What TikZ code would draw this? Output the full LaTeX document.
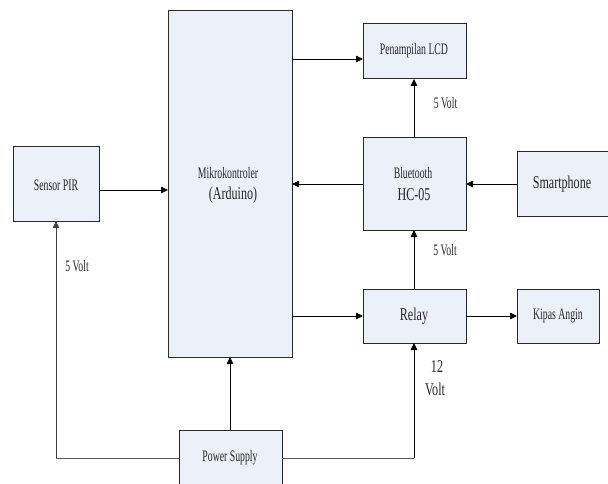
\documentclass[tikz,border=0pt]{standalone}
\usepackage{fontspec}
\setmainfont{Liberation Serif}
\newfontfamily\smfont{Liberation Serif}[FakeStretch=0.61]
\newfontfamily\lgfont{Liberation Serif}[FakeStretch=0.67]
\usetikzlibrary{arrows.meta}
\definecolor{boxfill}{RGB}{236,240,248}
\definecolor{boxline}{RGB}{40,40,40}
\begin{document}
\begin{tikzpicture}[x=1pt,y=-1pt,
  blk/.style={draw=boxline,fill=boxfill,line width=1pt},
  sm/.style={font=\smfont\fontsize{16}{18}\selectfont,inner sep=0pt,text=black!85},
  lg/.style={font=\lgfont\fontsize{18}{20}\selectfont,inner sep=0pt,text=black!85},
  conn/.style={line width=0.8pt,-{Triangle[length=7pt,width=6.5pt]}},
  pline/.style={line width=0.9pt,draw=black!65}]
\useasboundingbox (0,0) rectangle (608,484);
% boxes
\draw[blk] (168,11) rectangle (292,357);
\draw[blk] (13,147) rectangle (99,221);
\draw[blk] (363,24) rectangle (466,79);
\draw[blk] (363,138) rectangle (466,230);
\draw[blk] (517,152) rectangle (614,216);
\draw[blk] (363,289) rectangle (466,343);
\draw[blk] (517,289) rectangle (599,343);
\draw[blk] (179,430) rectangle (282,492);
% named anchor coordinates
\coordinate (mkR1) at (292,59);
\coordinate (mkR2) at (292,184);
\coordinate (mkR3) at (292,316);
\coordinate (mkL) at (168,190);
\coordinate (mkB) at (230,357);
\coordinate (pirR) at (99,190);
\coordinate (pirB) at (56,221);
\coordinate (lcdL) at (363,59);
\coordinate (lcdB) at (414,79);
\coordinate (btT) at (414,138);
\coordinate (btB) at (414,230);
\coordinate (btL) at (363,184);
\coordinate (btR) at (466,184);
\coordinate (spL) at (517,184);
\coordinate (rlL) at (363,316);
\coordinate (rlR) at (466,316);
\coordinate (rlT) at (414,289);
\coordinate (rlB) at (414,343);
\coordinate (kaL) at (517,316);
\coordinate (psT) at (230,430);
\coordinate (psL) at (179,458);
\coordinate (psR) at (282,458);
\coordinate (cL) at (56,458);
\coordinate (cR) at (414,458);
% texts
\node[sm] (tmk1) at (228,173) {Mikrokontroler};
\node[lg] (tmk2) at (233,195) {(Arduino)};
\node[sm] (tpir) at (56,185) {Sensor PIR};
\node[sm] (tlcd) at (414,51) {Penampilan LCD};
\node[sm] (tbt1) at (413,173) {Bluetooth};
\node[lg] (tbt2) at (414,195) {HC-05};
\node[lg] (tsp) at (562,184) {Smartphone};
\node[lg] (trl) at (414,316) {Relay};
\node[sm] (tka) at (558,316) {Kipas Angin};
\node[sm] (tps) at (230,458) {Power Supply};
\node[sm] (v1) at (445.5,103) {5 Volt};
\node[sm] (v2) at (445,250) {5 Volt};
\node[sm] (v3) at (77,266) {5 Volt};
\node[lg] (v4a) at (437,367) {12};
\node[lg] (v4b) at (435,389) {Volt};
% connectors
\draw[conn] (mkR1) -- (lcdL);
\draw[conn] (pirR) -- (mkL);
\draw[conn] (btL) -- (mkR2);
\draw[conn] (spL) -- (btR);
\draw[conn] (btT) -- (lcdB);
\draw[conn] (rlT) -- (btB);
\draw[conn] (mkR3) -- (rlL);
\draw[conn] (rlR) -- (kaL);
\draw[conn] (psT) -- (mkB);
\draw[pline] (psL) -- (cL);
\draw[conn,draw=black!75] (cL) -- (pirB);
\draw[pline] (psR) -- (cR);
\draw[conn] (cR) -- (rlB);
\end{tikzpicture}
\end{document}
